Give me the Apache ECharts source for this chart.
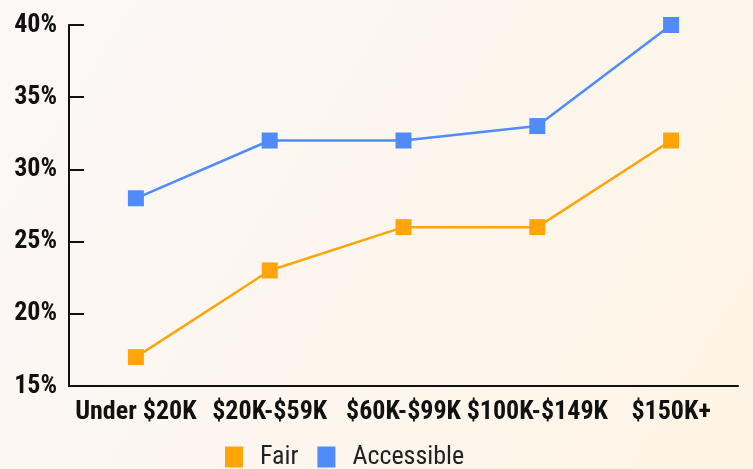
<!DOCTYPE html>
<html><head><meta charset="utf-8">
<script src="https://cdn.jsdelivr.net/npm/echarts@6/dist/echarts.min.js"></script>
<style>html,body{margin:0;padding:0;}#c{width:753px;height:469px;}</style>
</head><body><div id="c"></div>
<script>
const categories = ['Under $20K', '$20K-$59K', '$60K-$99K', '$100K-$149K', '$150K+'];
const fair = [17, 23, 26, 26, 32];
const accessible = [28, 32, 32, 33, 40];
const seriesNames = ['Fair', 'Accessible'];
const FONT = '"Liberation Sans Narrow", "Roboto Condensed", Roboto, sans-serif';

const chart = echarts.init(document.getElementById('c'));
chart.setOption({
  backgroundColor: {
    type: 'linear', x: 0, y: 0, x2: 1, y2: 1,
    colorStops: [{offset: 0, color: '#fcf8f8'}, {offset: 1, color: '#fdf4e4'}]
  },
  animation: false,
  grid: {left: 69, right: 15, top: 25, bottom: 83, containLabel: false},
  legend: {
    top: 444, left: 225, itemWidth: 18, itemHeight: 21, itemGap: 19,
    padding: 0,
    icon: 'rect',
    textStyle: {fontFamily: FONT, fontSize: 26, color: '#222', padding: [0, 0, 0, 12]},
    data: seriesNames
  },
  xAxis: {
    type: 'category', data: categories, boundaryGap: true,
    axisLine: {lineStyle: {color: '#111', width: 2}},
    axisTick: {inside: true, length: 7, lineStyle: {color: '#111', width: 2}},
    axisLabel: {fontFamily: FONT, fontWeight: 'bold', fontSize: 26, color: '#111', margin: 13, interval: 0}
  },
  yAxis: {
    type: 'value', min: 15, max: 40, interval: 5,
    splitLine: {show: false},
    axisLine: {show: true, lineStyle: {color: '#111', width: 2}},
    axisTick: {show: true, inside: true, length: 15, lineStyle: {color: '#111', width: 2}},
    axisLabel: {fontFamily: FONT, fontWeight: 'bold', fontSize: 26, color: '#111', margin: 12, formatter: '{value}%'}
  },
  series: [
    {name: seriesNames[0], type: 'line', data: fair, symbol: 'rect', symbolSize: 16,
     itemStyle: {color: '#FFA50A'}, lineStyle: {width: 2.5, color: '#FFA50A'}},
    {name: seriesNames[1], type: 'line', data: accessible, symbol: 'rect', symbolSize: 16,
     itemStyle: {color: '#4F8BF9'}, lineStyle: {width: 2.5, color: '#4F8BF9'}}
  ]
});
</script></body></html>
